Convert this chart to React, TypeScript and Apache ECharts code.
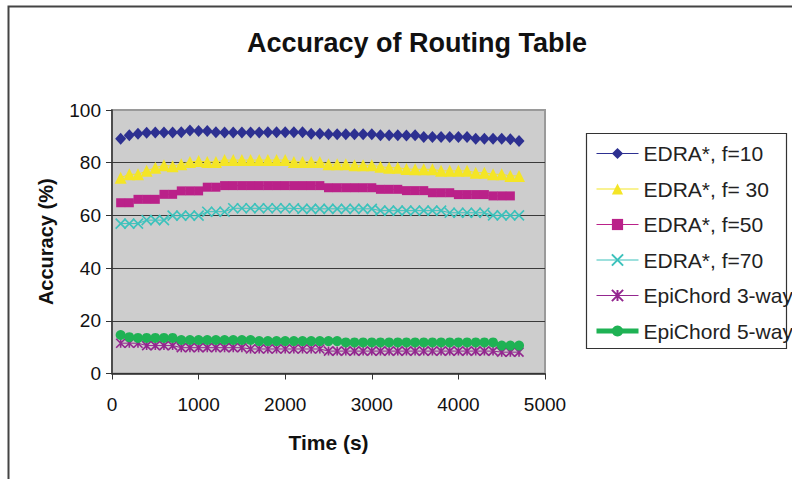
import React, { useEffect, useRef } from "react";
import * as echarts from "echarts";

// Simulation time (s) of each sample
const times = [
  100, 200, 300, 400, 500, 600, 700, 800, 900, 1000,
  1100, 1200, 1300, 1400, 1500, 1600, 1700, 1800, 1900, 2000,
  2100, 2200, 2300, 2400, 2500, 2600, 2700, 2800, 2900, 3000,
  3100, 3200, 3300, 3400, 3500, 3600, 3700, 3800, 3900, 4000,
  4100, 4200, 4300, 4400, 4500, 4600, 4700,
];

// Routing table accuracy (%) per protocol setting
const edraF10 = [
  89.1, 90.4, 91.0, 91.4, 91.5, 91.5, 91.5, 91.6, 92.2, 92.0,
  92.0, 91.6, 91.5, 91.5, 91.5, 91.5, 91.5, 91.6, 91.6, 91.6,
  91.6, 91.6, 91.0, 91.0, 90.8, 90.8, 90.8, 90.8, 90.8, 90.8,
  90.4, 90.4, 90.4, 90.3, 90.4, 89.8, 89.8, 89.8, 89.8, 89.8,
  89.8, 89.1, 89.1, 89.1, 89.1, 88.9, 88.2,
];
const edraF30 = [
  74.3, 75.6, 75.6, 76.9, 78.1, 79.0, 78.7, 79.4, 80.3, 80.6,
  80.3, 80.3, 81.0, 81.0, 81.0, 81.0, 81.0, 81.0, 81.0, 81.0,
  80.3, 80.3, 80.3, 80.3, 79.4, 79.4, 79.4, 79.0, 79.0, 79.0,
  78.5, 78.1, 78.1, 77.6, 77.5, 77.5, 77.5, 76.9, 76.9, 76.9,
  76.9, 76.2, 76.2, 75.6, 75.6, 75.0, 75.0,
];
const edraF50 = [
  64.8, 64.8, 66.1, 66.1, 66.1, 68.0, 68.0, 69.3, 69.3, 69.3,
  70.7, 70.7, 71.3, 71.3, 71.3, 71.3, 71.3, 71.3, 71.3, 71.3,
  71.3, 71.3, 71.3, 71.3, 70.5, 70.5, 70.5, 70.5, 70.5, 70.5,
  69.9, 69.9, 69.9, 69.4, 69.4, 69.4, 68.6, 68.6, 68.6, 67.9,
  67.9, 67.9, 67.9, 67.4, 67.4, 67.4,
];
const edraF70 = [
  56.9, 56.9, 56.9, 58.2, 58.2, 58.2, 59.9, 59.9, 59.9, 59.9,
  61.4, 61.4, 61.4, 62.7, 62.7, 62.7, 62.7, 62.7, 62.7, 62.7,
  62.7, 62.5, 62.5, 62.5, 62.5, 62.5, 62.5, 62.5, 62.5, 62.5,
  61.8, 61.8, 61.8, 61.8, 61.8, 61.8, 61.8, 61.8, 61.0, 61.0,
  61.0, 61.0, 61.0, 60.0, 60.0, 60.0, 60.0,
];
const epiChord3 = [
  11.5, 11.5, 11.5, 10.6, 10.6, 10.6, 10.6, 9.8, 9.8, 9.8,
  9.8, 9.8, 9.8, 9.8, 9.8, 9.3, 9.3, 9.3, 9.3, 9.3,
  9.3, 9.3, 9.3, 9.3, 8.5, 8.5, 8.5, 8.5, 8.5, 8.5,
  8.5, 8.5, 8.5, 8.5, 8.5, 8.5, 8.5, 8.5, 8.5, 8.5,
  8.5, 8.5, 8.5, 8.5, 8.1, 8.1, 8.1,
];
const epiChord5 = [
  14.6, 13.8, 13.5, 13.5, 13.5, 13.5, 13.5, 12.7, 12.7, 12.7,
  12.7, 12.7, 12.7, 12.7, 12.7, 12.7, 12.3, 12.3, 12.3, 12.3,
  12.3, 12.3, 12.3, 12.3, 12.3, 12.3, 11.8, 11.8, 11.8, 11.8,
  11.8, 11.8, 11.8, 11.8, 11.8, 11.8, 11.8, 11.8, 11.8, 11.8,
  11.8, 11.8, 11.8, 11.8, 10.6, 10.6, 10.6,
];

const seriesNames = [
  "EDRA*, f=10",
  "EDRA*, f= 30",
  "EDRA*, f=50",
  "EDRA*, f=70",
  "EpiChord 3-way",
  "EpiChord 5-way",
];
const xTicks = { min: 0, max: 5000, step: 1000 };
const yTicks = { min: 0, max: 100, step: 20 };

const FONT = '"Liberation Sans", Arial, Helvetica, sans-serif';
const CROSS = "path://M0,0L10,10M10,0L0,10";
const ASTERISK = "path://M0,0L10,10M10,0L0,10M5,0L5,10";

const pair = (vals: number[]) => vals.map((v, i) => [times[i], v]);

export default function App() {
  const ref = useRef<HTMLDivElement>(null);

  useEffect(() => {
    if (!ref.current) return;
    const chart = echarts.init(ref.current, null, { renderer: "svg" });

    const line = (
      name: string,
      vals: number[],
      color: string,
      symbol: string,
      symbolSize: number | number[],
      width = 1,
      stroked = false
    ) => ({
      name,
      type: "line",
      data: pair(vals),
      symbol,
      symbolSize,
      showAllSymbol: true,
      itemStyle: stroked
        ? { color, borderColor: color, borderWidth: 1.6 }
        : { color },
      lineStyle: { color, width },
      emphasis: { disabled: true },
    });

    chart.setOption({
      animation: false,
      backgroundColor: "#ffffff",
      textStyle: { fontFamily: FONT },
      grid: {
        left: 112,
        right: 247,
        top: 110,
        bottom: 105.5,
        show: true,
        backgroundColor: "#CDCDCD",
        borderColor: "#9a9a9a",
        borderWidth: 2,
      },
      xAxis: {
        type: "value",
        min: xTicks.min,
        max: xTicks.max,
        interval: xTicks.step,
        name: "Time (s)",
        nameLocation: "middle",
        nameGap: 58,
        nameTextStyle: { fontSize: 21, fontWeight: "bold", color: "#111", fontFamily: FONT },
        axisLine: { lineStyle: { color: "#333", width: 1.5 } },
        axisTick: { show: true, length: 6, lineStyle: { color: "#333" } },
        axisLabel: {
          fontSize: 19,
          color: "#111",
          margin: 21,
          fontFamily: FONT,
          formatter: (v: number) => String(v),
        },
        splitLine: { show: false },
      },
      yAxis: {
        type: "value",
        min: yTicks.min,
        max: yTicks.max,
        interval: yTicks.step,
        name: "Accuracy (%)",
        nameLocation: "middle",
        nameGap: 56,
        nameTextStyle: { fontSize: 20, fontWeight: "bold", color: "#111", fontFamily: FONT },
        axisLine: { show: true, lineStyle: { color: "#333", width: 1.5 } },
        axisTick: { show: true, length: 6, lineStyle: { color: "#333" } },
        axisLabel: { fontSize: 19, color: "#111", margin: 11, fontFamily: FONT },
        splitLine: { show: true, showMaxLine: false, lineStyle: { color: "#3a3a3a", width: 1 } },
      },
      legend: {
        orient: "vertical",
        left: 594,
        top: 143,
        itemWidth: 42,
        itemHeight: 14,
        itemGap: 14.5,
        padding: 0,
        textStyle: { fontSize: 21, color: "#222", fontFamily: FONT },
        data: [
          { name: seriesNames[0], lineStyle: { width: 1.2 } },
          { name: seriesNames[1], lineStyle: { width: 1.2 } },
          { name: seriesNames[2], lineStyle: { width: 1.2 } },
          { name: seriesNames[3], lineStyle: { width: 1.2 } },
          { name: seriesNames[4], lineStyle: { width: 1.2 } },
          { name: seriesNames[5], lineStyle: { width: 5 } },
        ],
      },
      graphic: [
        {
          type: "rect",
          shape: { x: 8.5, y: 6.5, width: 900, height: 600 },
          style: { fill: "none", stroke: "#444", lineWidth: 2 },
          silent: true,
        },
        {
          type: "rect",
          shape: { x: 586.5, y: 133.5, width: 200, height: 215 },
          style: { fill: "none", stroke: "#333", lineWidth: 1.2 },
          silent: true,
        },
        {
          type: "text",
          x: 417,
          y: 43,
          style: {
            text: "Accuracy of Routing Table",
            fontSize: 27,
            fontWeight: "bold",
            fontFamily: FONT,
            fill: "#111",
            align: "center",
            verticalAlign: "middle",
          },
          silent: true,
        },
      ],
      series: [
        line(seriesNames[0], edraF10, "#2D3091", "diamond", [11, 12]),
        line(seriesNames[1], edraF30, "#F4E526", "triangle", 12),
        line(seriesNames[2], edraF50, "#BA2189", "rect", 9),
        line(seriesNames[3], edraF70, "#3CC2BC", CROSS, 10, 1, true),
        line(seriesNames[4], epiChord3, "#93278F", ASTERISK, 9, 1, true),
        line(seriesNames[5], epiChord5, "#1FB254", "circle", 10, 3),
      ],
    });

    return () => chart.dispose();
  }, []);

  return (
    <div
      ref={ref}
      style={{ position: "fixed", left: 0, top: 0, width: 792, height: 479, background: "#fff" }}
    />
  );
}
